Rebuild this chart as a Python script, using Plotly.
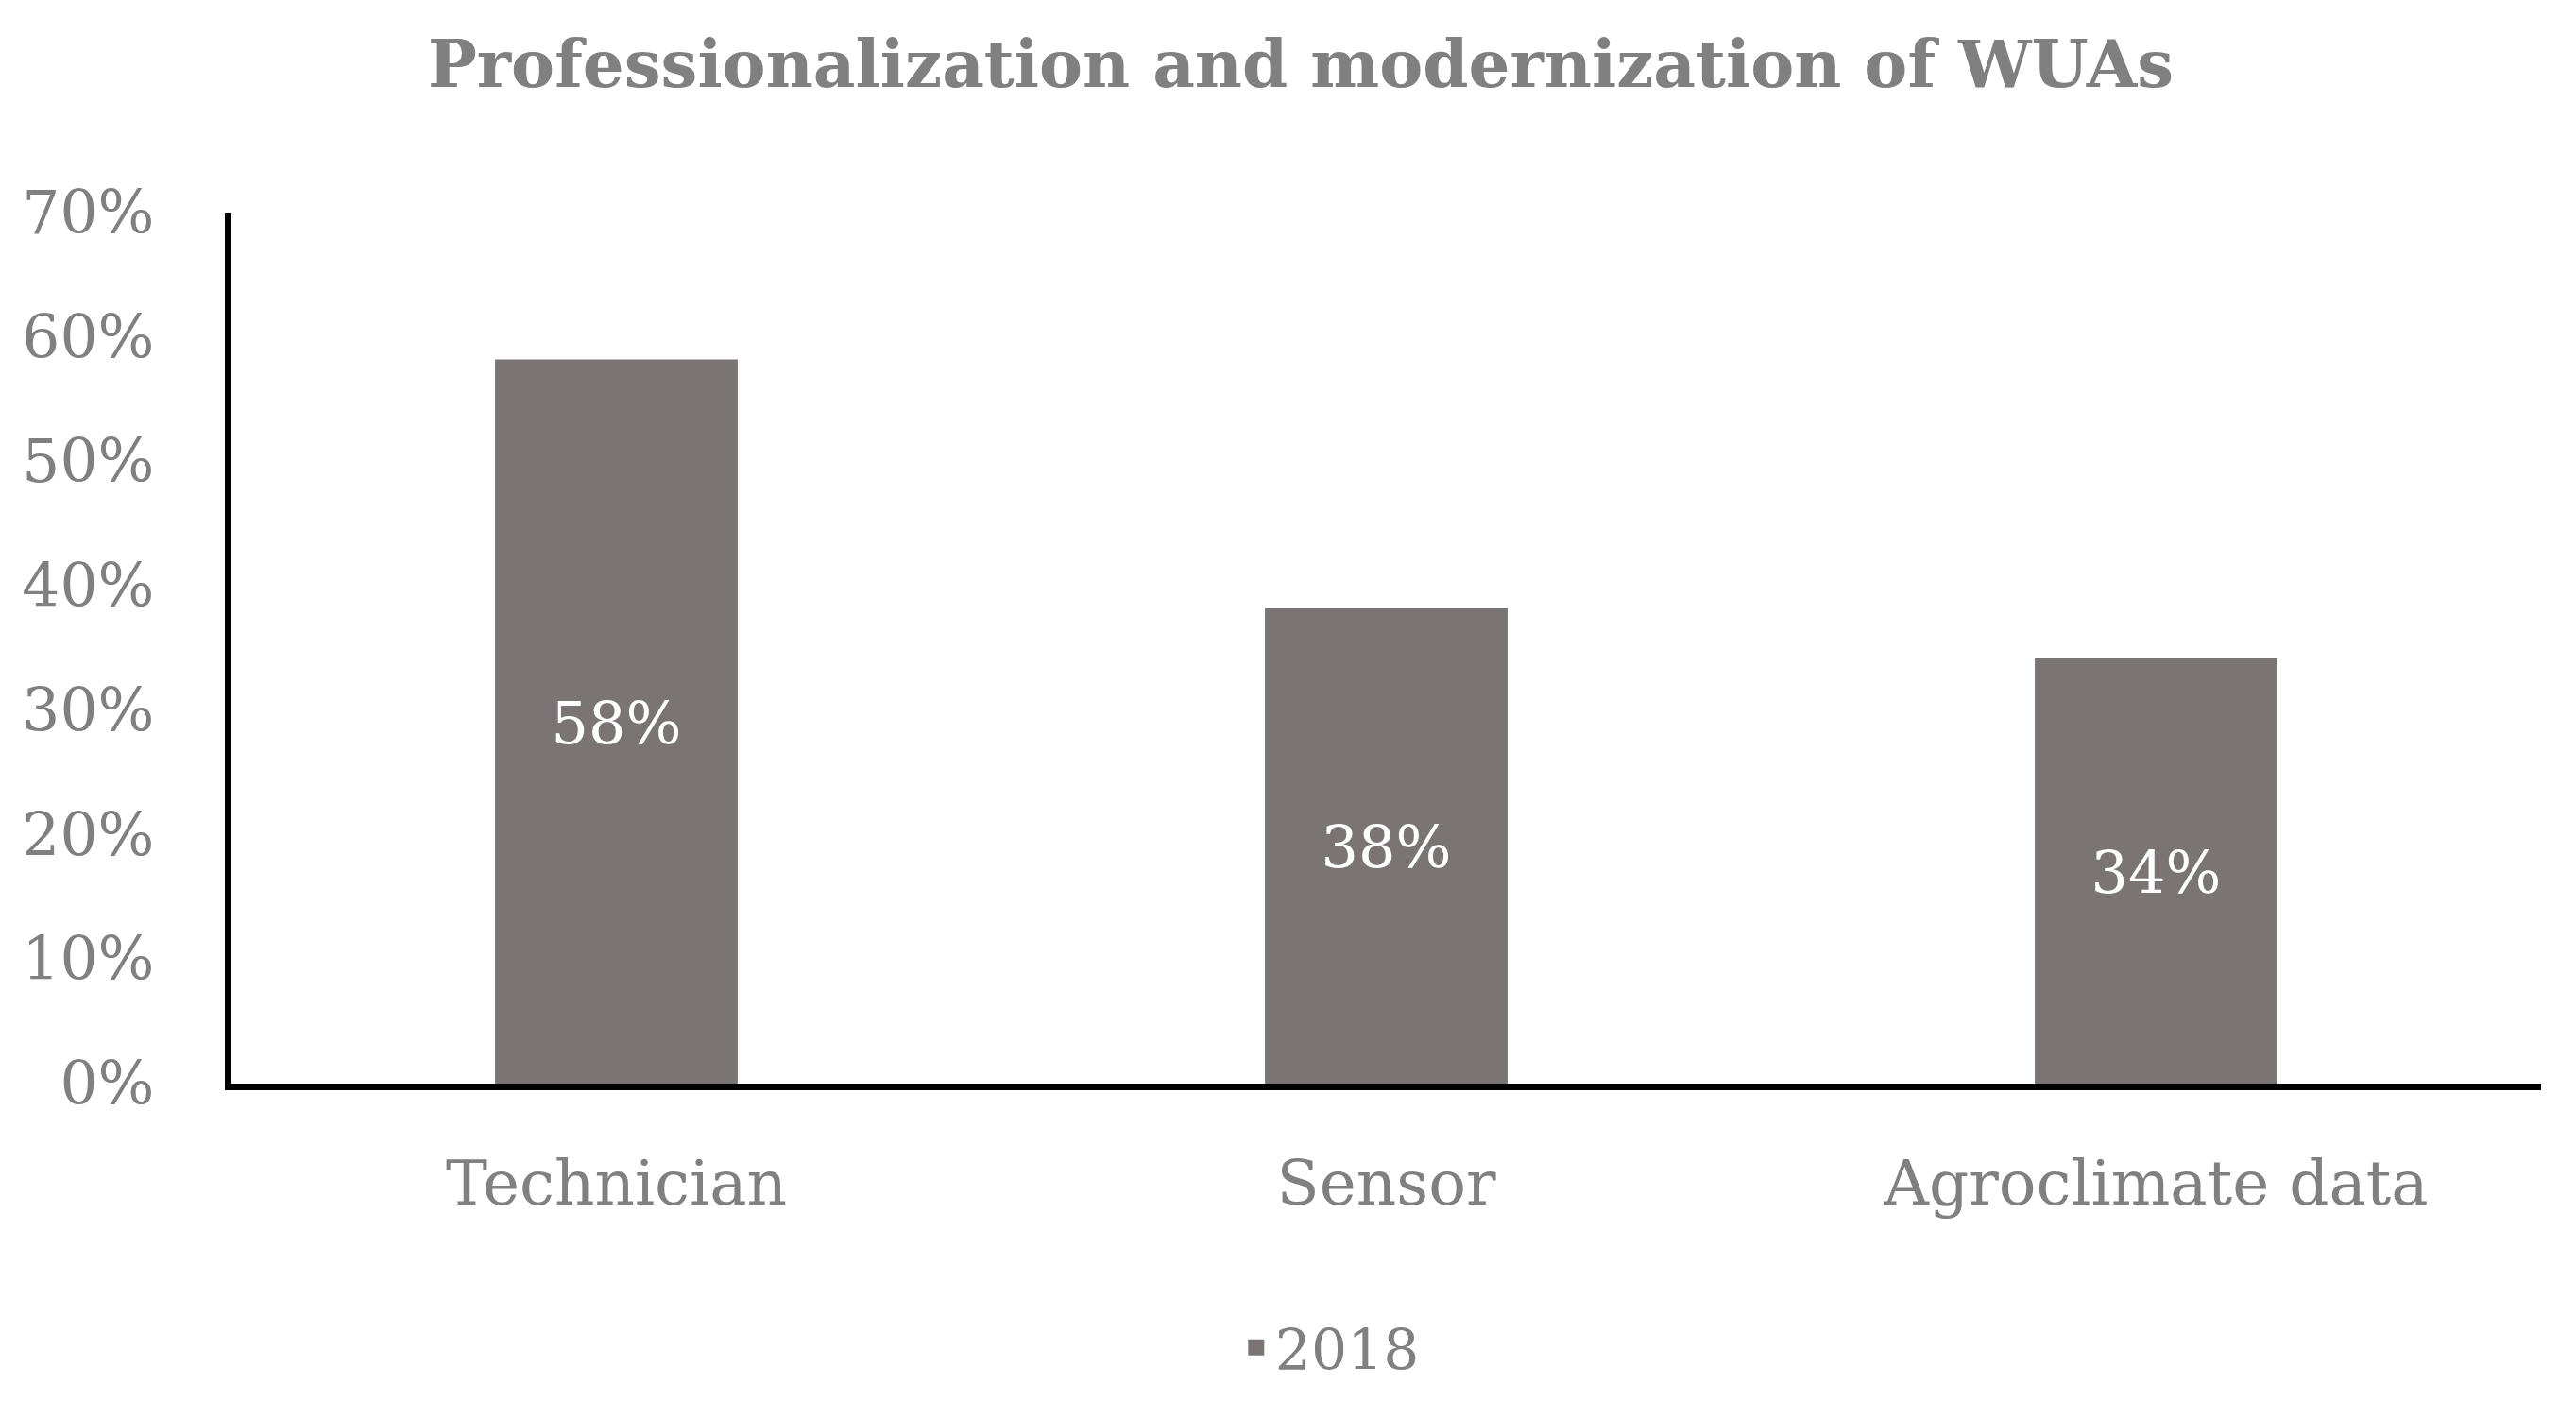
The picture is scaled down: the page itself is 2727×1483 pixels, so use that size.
import plotly.graph_objects as go

categories = ["Technician", "Sensor", "Agroclimate data"]
values_2018 = [0.58, 0.38, 0.34]
series_name = "2018"
y_tick_values = [0, 0.1, 0.2, 0.3, 0.4, 0.5, 0.6, 0.7]
y_tick_labels = ["0%", "10%", "20%", "30%", "40%", "50%", "60%", "70%"]
title_text = "Professionalization and modernization of WUAs"

BAR_COLOR = "#7A7474"
GRAY = "#808080"
FONT = "DejaVu Serif"

fig = go.Figure()
fig.add_trace(go.Bar(
    x=categories,
    y=values_2018,
    name=series_name,
    marker=dict(color=BAR_COLOR, line=dict(width=5, color=BAR_COLOR)),
    text=[f"{round(v*100)}%" for v in values_2018],
    textposition="inside",
    insidetextanchor="middle",
    textangle=0,
    textfont=dict(family=FONT, size=62, color="white"),
    showlegend=True,
))

fig.update_layout(
    width=2727,
    height=1483,
    paper_bgcolor="white",
    plot_bgcolor="white",
    margin=dict(l=237, r=45, t=217, b=344, autoexpand=False),
    bargap=0.691,
    title=dict(
        text=f"<b>{title_text}</b>",
        x=0.502,
        xanchor="center",
        xref="container",
        y=1 - 60 / 1483,
        yref="container",
        yanchor="middle",
        font=dict(family=FONT, size=69, color=GRAY),
    ),
    legend=dict(
        orientation="h",
        x=0.476,
        xanchor="center",
        y=-0.303,
        yanchor="middle",
        font=dict(family=FONT, size=60, color=GRAY),
        bgcolor="rgba(0,0,0,0)",
    ),
)

fig.update_xaxes(
    type="category",
    range=[-0.5, 2.5],
    showline=True,
    linecolor="black",
    linewidth=7,
    showgrid=False,
    zeroline=False,
    ticks="",
    ticklabelstandoff=42,
    tickfont=dict(family=FONT, size=66, color=GRAY),
)

fig.update_yaxes(
    range=[0, 0.7],
    tickvals=y_tick_values,
    ticktext=y_tick_labels,
    showline=True,
    linecolor="black",
    linewidth=7,
    showgrid=False,
    zeroline=False,
    ticks="",
    ticklabelstandoff=62,
    tickfont=dict(family=FONT, size=63, color=GRAY),
)

fig.write_html("out.html")
